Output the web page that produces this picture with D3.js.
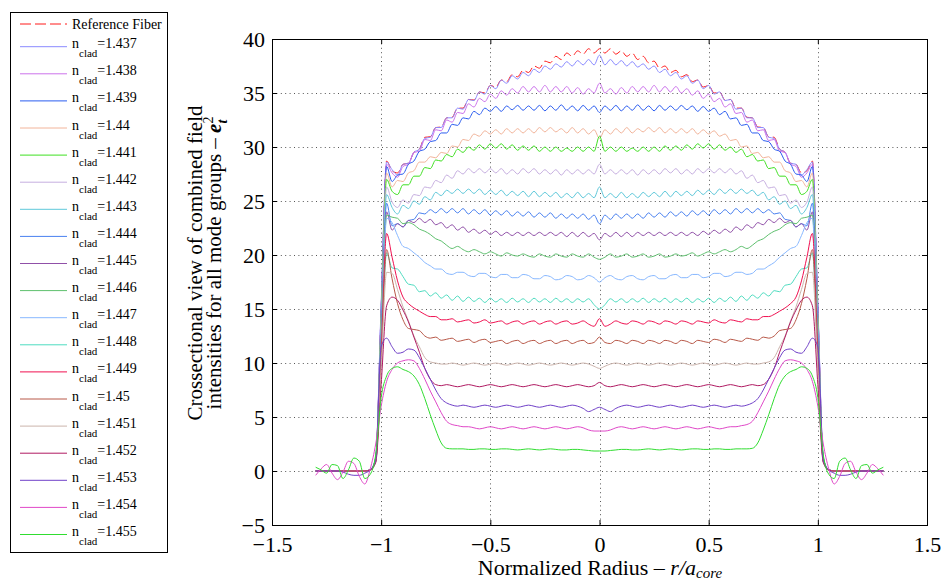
<!DOCTYPE html>
<html>
<head>
<meta charset="utf-8">
<script src="https://cdn.jsdelivr.net/npm/d3@7"></script>
<style>
  body { margin: 0; background: #fff; }
  svg { font-family: "Liberation Serif", "Times New Roman", serif; }
</style>
</head>
<body>
<script>
// normalized radius samples (r >= 0), profiles are mirrored for r < 0
var radius = [0, 0.025, 0.05, 0.075, 0.1, 0.125, 0.15, 0.175, 0.2, 0.225,
    0.25, 0.275, 0.3, 0.325, 0.35, 0.375, 0.4, 0.425, 0.45, 0.475,
    0.5, 0.525, 0.55, 0.575, 0.6, 0.625, 0.65, 0.675, 0.7, 0.725,
    0.75, 0.775, 0.8, 0.825, 0.85, 0.875, 0.9, 0.925, 0.95, 0.975,
    1, 1.025, 1.05, 1.075, 1.1, 1.125, 1.15, 1.175, 1.2, 1.225,
    1.25, 1.275, 1.3];

var refFiber = [39.1, 38.7, 39.1, 38.6, 38.9, 38.4, 38.7, 38.1, 38.4, 37.8,
    37.95, 37.3, 37.5, 36.9, 37.1, 36.5, 36.7, 36.05, 36.2, 35.55,
    35.7, 35.0, 35.1, 34.35, 34.4, 33.6, 33.6, 32.75, 32.7, 31.85,
    31.8, 30.95, 30.9, 29.8, 29.5, 28.5, 28.4, 27.6, 27.8, 28.7,
    15, 1.2, 0.1, 0, 0, 0, 0, 0, 0, 0,
    0, 0, 0];
var n1437 = [38.5, 37.6, 38.1, 37.6, 38.0, 37.5, 37.9, 37.4, 37.7, 37.2,
    37.5, 36.9, 37.2, 36.6, 36.9, 36.3, 36.6, 35.9, 36.2, 35.4,
    35.7, 34.9, 35.1, 34.3, 34.4, 33.5, 33.6, 32.7, 32.7, 31.8,
    31.8, 30.9, 30.8, 29.8, 29.5, 28.5, 28.4, 27.4, 27.9, 28.6,
    15.5, 1.3, 0.1, 0, 0, 0, 0, 0, 0, 0,
    0, 0, 0];
var n1438 = [35.9, 35.0, 35.4, 34.9, 35.5, 35.0, 35.6, 35.1, 35.6, 35.1,
    35.7, 35.1, 35.6, 35.1, 35.6, 35.0, 35.4, 34.8, 35.2, 34.5,
    34.9, 34.2, 34.5, 33.7, 34.0, 33.1, 33.2, 32.3, 32.5, 31.5,
    31.6, 30.6, 30.7, 29.6, 29.5, 28.4, 28.2, 27.2, 27.6, 28.4,
    15.2, 1.2, 0.1, 0, 0, 0, 0, 0, 0, 0,
    0, 0, 0];
var n1439 = [33.2, 33.8, 33.4, 33.85, 33.35, 33.8, 33.4, 33.9, 33.4, 33.8,
    33.35, 33.85, 33.4, 33.8, 33.4, 33.85, 33.45, 33.8, 33.3, 33.75,
    33.3, 33.6, 33.0, 33.3, 32.6, 32.7, 32.0, 32.1, 31.3, 31.3,
    30.6, 30.5, 29.8, 29.6, 28.7, 28.4, 27.5, 27.4, 26.8, 28.2,
    15.0, 1.2, 0.1, 0, 0, 0, 0, 0, 0, 0,
    0, 0, 0];
var n1440 = [30.8, 31.6, 31.2, 31.7, 31.3, 31.8, 31.3, 31.7, 31.4, 31.8,
    31.4, 31.8, 31.3, 31.7, 31.3, 31.7, 31.3, 31.7, 31.2, 31.6,
    31.2, 31.5, 31.0, 31.2, 30.6, 30.7, 30.0, 30.1, 29.4, 29.5,
    29.0, 29.1, 28.6, 28.6, 27.8, 27.6, 26.8, 26.9, 26.3, 27.6,
    14.5, 1.2, 0.1, 0, 0, 0, 0, 0, 0, 0,
    0, 0, 0];
var n1441 = [31.0, 29.6, 30.0, 29.6, 30.0, 29.6, 29.9, 29.6, 30.0, 29.6,
    30.0, 29.6, 30.1, 29.7, 30.1, 29.7, 30.2, 29.8, 30.3, 29.9,
    30.3, 29.8, 30.2, 29.7, 30.0, 29.5, 29.8, 29.1, 29.3, 28.7,
    28.8, 28.0, 28.1, 27.3, 27.3, 26.5, 26.5, 25.6, 25.9, 27.0,
    14.0, 1.1, 0.1, 0, 0, 0, 0, 0, 0, 0,
    0, 0, 0];
var n1442 = [28.4, 27.5, 27.9, 27.5, 27.9, 27.5, 27.9, 27.4, 27.9, 27.5,
    27.9, 27.5, 28.0, 27.6, 28.0, 27.5, 27.9, 27.5, 28.0, 27.6,
    28.0, 27.6, 28.0, 27.6, 28.0, 27.5, 27.8, 27.1, 27.4, 26.7,
    26.9, 26.2, 26.3, 25.5, 25.6, 24.8, 25.1, 24.4, 24.9, 26.3,
    13.5, 1.1, 0.1, 0, 0, 0, 0, 0, 0, 0,
    0, 0, 0];
var n1443 = [26.3, 25.3, 25.7, 25.3, 25.8, 25.3, 25.7, 25.3, 25.8, 25.4,
    25.8, 25.4, 25.9, 25.4, 25.9, 25.5, 25.9, 25.5, 26.0, 25.6,
    26.0, 25.6, 26.1, 25.7, 26.1, 25.7, 26.1, 25.7, 26.0, 25.5,
    25.8, 25.1, 25.4, 24.7, 25.0, 24.3, 24.6, 23.8, 24.4, 25.6,
    13.0, 1.1, 0.1, 0, 0, 0, 0, 0, 0, 0,
    0, 0, 0];
var n1444 = [22.9, 23.7, 23.3, 23.8, 23.4, 23.8, 23.4, 23.8, 23.4, 23.9,
    23.5, 23.9, 23.5, 24.0, 23.6, 24.0, 23.6, 24.1, 23.7, 24.1,
    23.7, 24.2, 23.8, 24.2, 23.8, 24.3, 23.9, 24.3, 23.9, 24.3,
    23.9, 24.2, 23.8, 23.9, 23.3, 23.2, 22.6, 22.9, 22.7, 24.8,
    12.5, 1.0, 0.1, 0, 0, 0, 0, 0, 0, 0,
    0, 0, 0];
var n1445 = [21.4, 22.0, 21.7, 22.1, 21.7, 22.1, 21.7, 22.1, 21.8, 22.1,
    21.8, 22.1, 21.8, 22.1, 21.8, 22.1, 21.8, 22.1, 21.8, 22.2,
    21.9, 22.3, 22.0, 22.4, 22.1, 22.6, 22.3, 22.8, 22.5, 23.0,
    22.8, 23.3, 23.0, 23.4, 23.0, 23.2, 22.6, 22.9, 22.3, 24.0,
    12.0, 1.0, 0.1, 0, 0, 0, 0, 0, 0, 0,
    0, 0, 0];
var n1446 = [19.6, 19.8, 20.1, 19.8, 19.9, 20.1, 19.8, 19.9, 20.1, 19.8,
    19.9, 20.1, 19.8, 19.9, 20.1, 19.9, 20.0, 20.2, 19.9, 20.1,
    20.3, 20.1, 20.3, 20.5, 20.3, 20.5, 20.8, 20.6, 20.9, 21.3,
    21.5, 21.9, 22.2, 22.4, 22.8, 23.0, 22.9, 23.4, 23.5, 23.7,
    11.5, 1.0, 0.1, 0, 0, 0, 0, 0, 0, 0,
    0, 0, 0];
var n1447 = [17.5, 17.9, 18.1, 17.8, 17.7, 18.0, 18.1, 17.8, 17.7, 18.0,
    18.1, 17.8, 17.8, 18.1, 18.2, 17.9, 17.9, 18.2, 18.2, 17.9,
    18.0, 18.3, 18.3, 18.0, 18.1, 18.4, 18.4, 18.2, 18.3, 18.7,
    18.7, 19.0, 19.3, 19.8, 20.2, 20.6, 20.8, 21.8, 23.0, 23.4,
    11.0, 0.9, 0.1, 0, 0, 0, 0, 0, 0, 0,
    0, 0, 0];
var n1448 = [15.0, 15.4, 15.95, 15.65, 15.95, 15.6, 15.95, 15.65, 16.0, 15.6,
    15.95, 15.65, 16.0, 15.6, 15.95, 15.65, 16.0, 15.6, 15.95, 15.65,
    16.0, 15.6, 16.0, 15.7, 16.1, 15.7, 16.2, 15.8, 16.3, 16.0,
    16.5, 16.2, 16.7, 16.6, 17.2, 17.3, 18.0, 18.7, 18.8, 20.2,
    10.5, 0.9, 0.1, 0, 0, 0, 0, 0, 0, 0,
    0, 0, 0];
var n1449 = [14.1, 13.4, 13.6, 13.9, 13.7, 13.6, 13.9, 13.8, 13.6, 13.9,
    13.8, 13.6, 13.9, 13.8, 13.6, 13.9, 13.8, 13.6, 13.9, 13.8,
    13.7, 14.0, 13.8, 13.7, 14.0, 13.9, 13.8, 14.1, 14.0, 14.0,
    14.3, 14.3, 14.5, 14.8, 15.1, 15.5, 16.1, 17.6, 19.8, 22.0,
    11.0, 0.9, 0.1, 0, 0, 0, 0, 0, 0, 0,
    0, 0, 0];
var n1450 = [12.4, 11.9, 11.8, 12.1, 12.0, 11.8, 12.1, 12.0, 11.8, 12.1,
    12.0, 11.8, 12.1, 12.0, 11.8, 12.1, 12.0, 11.8, 12.1, 12.0,
    11.9, 12.2, 12.1, 11.9, 12.2, 12.1, 12.0, 12.3, 12.2, 12.1,
    12.4, 12.3, 12.5, 13.0, 13.1, 13.2, 14.0, 15.5, 17.8, 20.5,
    10.5, 0.9, 0.1, 0, 0, 0, 0, 0, 0, 0,
    0, 0, 0];
var n1451 = [9.5, 9.7, 9.9, 10.0, 9.9, 9.8, 9.9, 10.0, 9.9, 9.8,
    9.9, 10.0, 9.9, 9.8, 9.9, 10.0, 9.9, 9.8, 9.9, 10.0,
    9.9, 9.8, 9.9, 10.0, 9.9, 9.8, 9.9, 10.0, 9.9, 9.9,
    10.0, 10.1, 10.5, 11.5, 12.5, 13.9, 15.2, 16.8, 18.3, 18.4,
    9.5, 0.8, 0.1, 0, 0, 0, 0, 0, 0, 0,
    0, 0, 0];
var n1452 = [8.2, 7.9, 7.8, 7.9, 8.0, 7.9, 7.8, 7.9, 8.0, 7.9,
    7.8, 7.9, 8.0, 7.9, 7.8, 7.9, 8.0, 7.9, 7.8, 7.9,
    8.0, 7.9, 7.8, 7.9, 8.0, 7.9, 7.8, 7.9, 8.0, 7.9,
    8.0, 8.5, 9.5, 11.0, 12.4, 13.8, 14.9, 15.8, 16.1, 15.3,
    8.0, 0.8, 0.1, 0, 0, 0, 0, 0, 0, 0,
    0, 0, 0];
var n1453 = [5.9, 5.7, 5.5, 5.8, 6.0, 6.1, 6.0, 5.9, 6.0, 6.1,
    6.0, 5.9, 6.0, 6.1, 6.0, 5.9, 6.0, 6.1, 6.0, 5.9,
    6.0, 6.1, 6.0, 5.9, 6.0, 6.1, 6.0, 6.1, 6.3, 6.7,
    7.5, 8.5, 9.5, 10.5, 11.2, 11.3, 11.0, 10.9, 11.5, 12.3,
    11.5, 1.0, 0.1, -0.2, -0.4, -0.4, -0.3, -0.1, 0, 0,
    0, 0, 0];
var n1454 = [3.7, 3.7, 3.8, 4.0, 4.1, 4.0, 3.9, 4.0, 4.1, 4.0,
    3.9, 4.0, 4.1, 4.0, 3.9, 4.0, 4.1, 4.0, 3.9, 4.0,
    4.1, 4.0, 3.9, 4.0, 4.1, 4.1, 4.2, 4.3, 4.6, 5.4,
    6.4, 7.4, 8.5, 9.5, 10.2, 10.3, 10.2, 10.0, 9.4, 8.3,
    6.0, 2.5, 0.2, -1.2, -0.5, 0.7, 0.9, -0.1, -0.8, -0.2,
    0.6, 0.2, -0.4];
var n1455 = [1.85, 1.85, 1.9, 1.95, 2.0, 2.0, 1.95, 1.95, 2.0, 2.05,
    2.0, 1.95, 2.0, 2.05, 2.0, 1.95, 2.0, 2.05, 2.05, 2.0,
    2.0, 2.05, 2.05, 2.0, 2.0, 2.05, 2.05, 2.05, 2.1, 2.6,
    3.8, 5.2, 6.7, 8.0, 8.8, 9.2, 9.4, 9.65, 9.5, 8.8,
    6.8, 1.5, -0.3, -0.7, 0.9, 1.2, 0.1, -0.7, 0.5, 0.6,
    -0.2, 0.1, 0.35];

var cladIndex = ["1.437", "1.438", "1.439", "1.44", "1.441", "1.442", "1.443", "1.444", "1.445",
    "1.446", "1.447", "1.448", "1.449", "1.45", "1.451", "1.452", "1.453", "1.454", "1.455"];
var cladColors = ["#8a8aff", "#cc72ec", "#2a5cf0", "#f2b49a", "#3ee020", "#c6aee0", "#5ec8da",
    "#4880f0", "#9050a8", "#5ec06e", "#88b8ff", "#4edcc0", "#f01050", "#b85848", "#ccb4ac",
    "#b01a62", "#7040c8", "#e048c8", "#30dd30"];
var cladProfiles = [n1437, n1438, n1439, n1440, n1441, n1442, n1443, n1444, n1445, n1446,
    n1447, n1448, n1449, n1450, n1451, n1452, n1453, n1454, n1455];

var xTicks = [-1.5, -1, -0.5, 0, 0.5, 1, 1.5];
var yTicks = [-5, 0, 5, 10, 15, 20, 25, 30, 35, 40];

var width = 941, height = 582;
var plot = {left: 272, right: 927, top: 39, bottom: 525};

var svg = d3.select("body").append("svg")
    .attr("width", width)
    .attr("height", height);

var x = d3.scaleLinear().domain([-1.5, 1.5]).range([plot.left, plot.right]);
var y = d3.scaleLinear().domain([-5, 40]).range([plot.bottom, plot.top]);

// full profile from -1.3 to 1.3 (symmetric field)
var toPoints = function (vals) {
    var pts = [];
    for (var i = radius.length - 1; i > 0; i--) pts.push([-radius[i], vals[i]]);
    for (var j = 0; j < radius.length; j++) pts.push([radius[j], vals[j]]);
    return pts;
};

var series = [{name: "Reference Fiber", values: refFiber, color: "#ff1a1a", dash: "9,4"}];
cladIndex.forEach(function (n, i) {
    series.push({name: n, values: cladProfiles[i], color: cladColors[i], dash: null});
});

// grid
var grid = svg.append("g").attr("class", "grid");
grid.selectAll("line.gx").data(xTicks).enter().append("line")
    .attr("x1", function (d) { return Math.round(x(d)) + 0.5; })
    .attr("x2", function (d) { return Math.round(x(d)) + 0.5; })
    .attr("y1", plot.top).attr("y2", plot.bottom);
grid.selectAll("line.gy").data(yTicks).enter().append("line")
    .attr("y1", function (d) { return Math.round(y(d)) + 0.5; })
    .attr("y2", function (d) { return Math.round(y(d)) + 0.5; })
    .attr("x1", plot.left).attr("x2", plot.right);
grid.selectAll("line")
    .attr("stroke", "#555")
    .attr("stroke-width", 1)
    .attr("stroke-dasharray", "1,3.4");

// curves
var line = d3.line()
    .x(function (d) { return x(d[0]); })
    .y(function (d) { return y(d[1]); })
    .curve(d3.curveMonotoneX);

svg.append("g").attr("class", "curves")
    .selectAll("path")
    .data(series)
    .enter().append("path")
    .attr("d", function (d) { return line(toPoints(d.values)); })
    .attr("fill", "none")
    .attr("stroke", function (d) { return d.color; })
    .attr("stroke-width", 1)
    .attr("stroke-dasharray", function (d) { return d.dash; });

// axes with inward ticks on all four sides
var fmt = d3.format("");
var axes = svg.append("g").attr("class", "axes");
axes.append("g").attr("transform", "translate(0," + plot.bottom + ")")
    .call(d3.axisBottom(x).tickValues(xTicks).tickFormat(fmt).tickSizeInner(-5).tickSizeOuter(0).tickPadding(11));
axes.append("g").attr("transform", "translate(0," + plot.top + ")")
    .call(d3.axisTop(x).tickValues(xTicks).tickFormat("").tickSizeInner(-5).tickSizeOuter(0));
axes.append("g").attr("transform", "translate(" + plot.left + ",0)")
    .call(d3.axisLeft(y).tickValues(yTicks).tickFormat(fmt).tickSizeInner(-5).tickSizeOuter(0).tickPadding(7));
axes.append("g").attr("transform", "translate(" + plot.right + ",0)")
    .call(d3.axisRight(y).tickValues(yTicks).tickFormat("").tickSizeInner(-5).tickSizeOuter(0));
axes.selectAll(".domain").remove();
axes.selectAll(".tick line").attr("stroke", "#000");
axes.selectAll(".tick text")
    .attr("fill", "#000")
    .style("font-size", "22px")
    .style("font-family", "'Liberation Serif', 'Times New Roman', serif");

svg.append("rect")
    .attr("x", plot.left + 0.5).attr("y", plot.top + 0.5)
    .attr("width", plot.right - plot.left).attr("height", plot.bottom - plot.top)
    .attr("fill", "none").attr("stroke", "#000").attr("stroke-width", 1);

// x label
var xlab = svg.append("text")
    .attr("x", 600).attr("y", 575)
    .attr("text-anchor", "middle")
    .style("font-size", "22px");
xlab.append("tspan").text("Normalized Radius \u2013 ");
xlab.append("tspan").style("font-style", "italic").text("r/a");
xlab.append("tspan").attr("dy", 3).style("font-style", "italic").style("font-size", "15px").text("core");

// y label (two lines)
var ylab = svg.append("text")
    .attr("transform", "translate(202,263) rotate(-90)")
    .attr("text-anchor", "middle")
    .style("font-size", "21px");
ylab.append("tspan").attr("x", 0).attr("y", 0).text("Crossectional view of combined field");
ylab.append("tspan").attr("x", 0).attr("y", 19).text("intensities for all mode groups \u2013 ");
ylab.append("tspan").style("font-weight", "bold").style("font-style", "italic").text("e");
ylab.append("tspan").attr("dy", -8).style("font-size", "14px").text("2");
ylab.append("tspan").attr("dx", -7).attr("dy", 14).style("font-size", "14px")
    .style("font-weight", "bold").style("font-style", "italic").text("t");

// legend
var legend = svg.append("g").attr("class", "legend");
legend.append("rect")
    .attr("x", 10.5).attr("y", 12.5).attr("width", 157).attr("height", 540)
    .attr("fill", "#fff").attr("stroke", "#000").attr("stroke-width", 1);

var rowY = function (i) { return i === 0 ? 24 : 46.7 + (i - 1) * 27.1; };
var rows = legend.selectAll("g.row")
    .data(series)
    .enter().append("g")
    .attr("class", "row")
    .attr("transform", function (d, i) { return "translate(0," + rowY(i) + ")"; });
rows.append("line")
    .attr("x1", 20).attr("x2", 67).attr("y1", 0).attr("y2", 0)
    .attr("stroke", function (d) { return d.color; })
    .attr("stroke-width", 1)
    .attr("stroke-dasharray", function (d) { return d.dash ? "11,4" : null; });
rows.each(function (d, i) {
    var t = d3.select(this).append("text").attr("x", 72).style("font-size", "14px");
    if (i === 0) {
        t.attr("y", 4.5).text(d.name);
    } else {
        t.attr("y", 1.5);
        t.append("tspan").text("n");
        t.append("tspan").attr("dy", 9).style("font-size", "11px").text("clad");
        t.append("tspan").attr("dy", -9).text("=" + d.name);
    }
});
</script>
</body>
</html>
